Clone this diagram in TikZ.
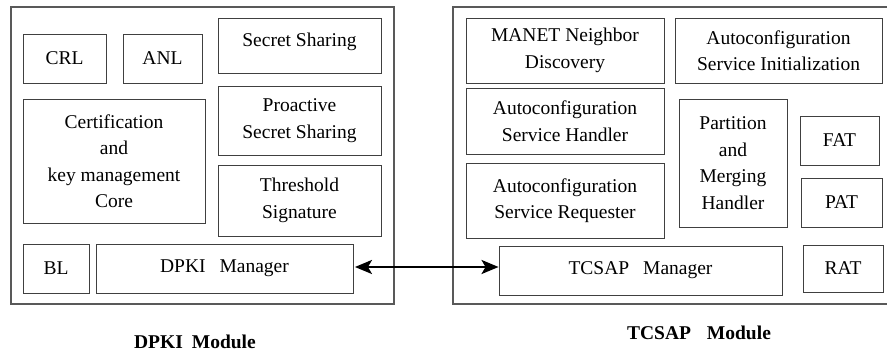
\documentclass[tikz,border=0pt]{standalone}
\usepackage{fontspec}
\setmainfont{Liberation Serif}
\usetikzlibrary{arrows.meta}
\begin{document}
\begin{tikzpicture}[x=1pt, y=-1pt, every node/.style={font=\fontsize{19.5}{26.5}\selectfont}, box/.style={draw=black!75,line width=0.9pt,align=center,inner sep=0pt}, frame/.style={draw=black!65,line width=1.2pt,inner sep=0pt}, modlabel/.style={font=\fontsize{19.5}{22}\selectfont\bfseries}]
\useasboundingbox (0,0) rectangle (887,352);
% DPKI module
\node[frame,minimum width=383,minimum height=297] (dpki) at (202.5,155.5) {};
\node[box,minimum width=83,minimum height=49] (crl) at (64.5,58.5) {CRL}; \node[box,minimum width=79,minimum height=49] (anl) at (162.5,58.5) {ANL};
\node[box,minimum width=163,minimum height=55,text depth=12pt] (ss) at (299.5,45.5) {Secret Sharing};
\node[box,minimum width=163,minimum height=69] (pss) at (299.5,120.5) {Proactive\\Secret Sharing};
\node[box,minimum width=163,minimum height=71] (ts) at (299.5,200.5) {Threshold\\Signature};
\node[box,minimum width=182,minimum height=124] (core) at (114,161) {Certification\\and\\key management\\Core};
\node[box,minimum width=66,minimum height=49] (bl) at (56,268.5) {BL}; \node[box,minimum width=257,minimum height=49] (dpkimgr) at (224.5,268.5) {DPKI\hspace{14pt}Manager};
\node[modlabel] (dpkilbl) at (195,342) {DPKI\hspace{9pt}Module};
% TCSAP module
\node[frame,minimum width=440,minimum height=297] (tcsap) at (673,155.5) {};
\node[box,minimum width=198,minimum height=65] (manet) at (565,50.5) {MANET Neighbor\\Discovery};
\node[box,minimum width=207,minimum height=65] (init) at (778.5,50.5) {Autoconfiguration\\Service Initialization};
\node[box,minimum width=198,minimum height=66] (handler) at (565,121) {Autoconfiguration\\Service Handler};
\node[box,minimum width=198,minimum height=75] (req) at (565,200.5) {Autoconfiguration\\Service Requester};
\node[box,minimum width=108,minimum height=128] (pmh) at (733,163) {Partition\\and\\Merging\\Handler};
\node[box,minimum width=79,minimum height=49] (fat) at (839.5,140.5) {FAT}; \node[box,minimum width=81,minimum height=49] (pat) at (841.5,202.5) {PAT};
\node[box,minimum width=283,minimum height=49] (tcsapmgr) at (640.5,270.5) {TCSAP\hspace{14pt}Manager}; \node[box,minimum width=80,minimum height=47] (rat) at (843,268.5) {RAT};
\node[modlabel] (tcsaplbl) at (699,333) {TCSAP\hspace{16pt}Module};
% link between the managers
\draw[{Stealth[length=17pt,width=14pt,inset=4pt]}-{Stealth[length=17pt,width=14pt,inset=4pt]},line width=2.4pt,shorten <=1.5pt] (dpkimgr.east |- 0,267) -- (tcsapmgr.west |- 0,267);
\end{tikzpicture}
\end{document}
